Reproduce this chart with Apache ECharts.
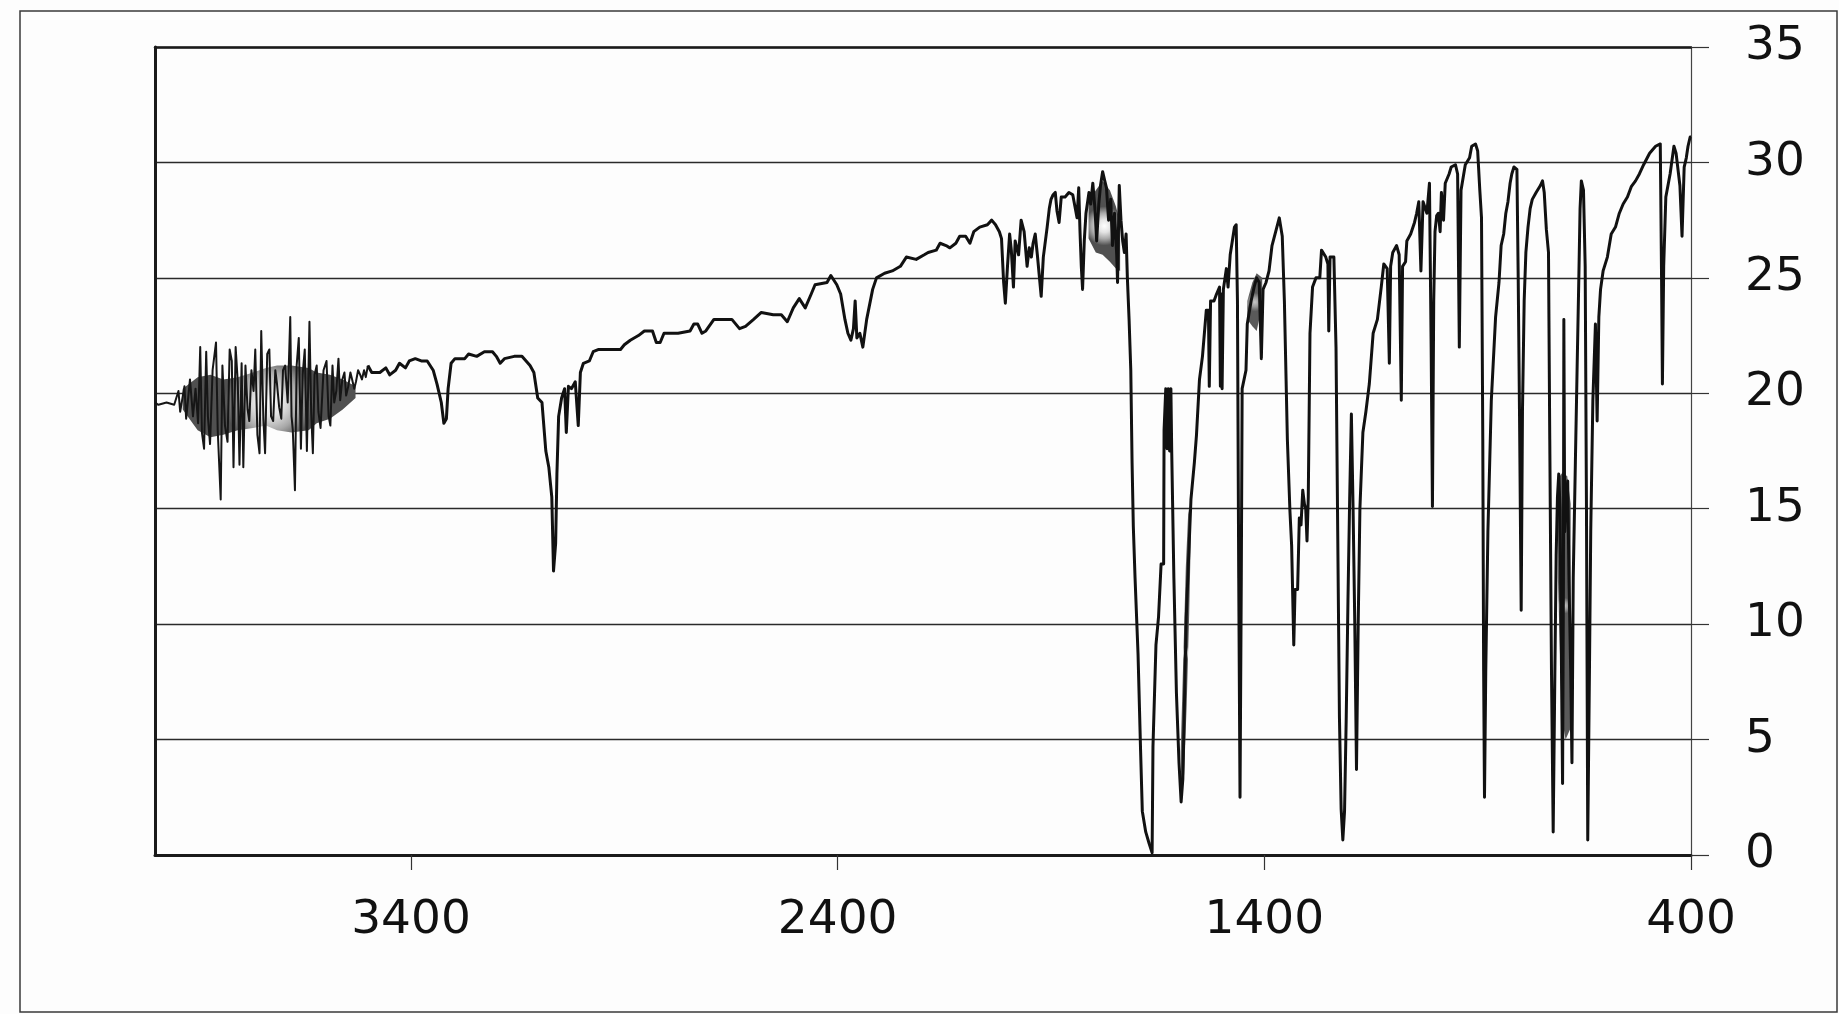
<!DOCTYPE html>
<html>
<head>
<meta charset="utf-8">
<script src="https://cdn.jsdelivr.net/npm/echarts@6/dist/echarts.min.js"></script>
<style>
html,body{margin:0;padding:0;background:#fdfdfd;}
#chart{width:1839px;height:1014px;}
</style>
</head>
<body>
<div id="chart"></div>
<script>
// Tick labels
const xTickValues = [3400, 2400, 1400, 400];
const yMin = 0, yMax = 35, yStep = 5;

// Spectrum: [wavenumber, value]
const region4000to3500 = [
[4000,19.6],[3992,19.5],[3973,19.6],[3955,19.5],[3945,20.1],[3941,19.2],[3931,20.3],[3927,18.9],[3918,20.6],[3911,19.0],[3905,20.2],[3899,18.7],[3894,22.0],[3890,18.3],[3885,17.6],[3880,21.8],[3876,19.0],[3871,17.8],[3865,21.0],[3857,22.2],[3853,18.4],[3846,15.4],[3842,21.2],[3836,18.6],[3830,17.9],[3825,21.9],[3820,21.4],[3816,16.8],[3811,22.0],[3806,20.5],[3802,16.9],[3797,21.3],[3793,16.8],[3788,21.2],[3783,19.3],[3779,18.8],[3774,21.0],[3769,20.1],[3765,21.9],[3760,18.2],[3755,17.4],[3751,22.7],[3746,18.9],[3742,17.4],[3737,21.7],[3732,21.9],[3728,19.0],[3723,18.8],[3718,21.0],[3714,20.4],[3709,19.4],[3704,18.9],[3700,21.0],[3695,21.2],[3689,19.6],[3683,23.3],[3680,19.0],[3677,18.4],[3672,15.8],[3668,21.2],[3663,22.4],[3658,17.6],[3654,20.8],[3649,21.9],[3644,17.5],[3638,23.1],[3634,19.2],[3630,17.4],[3626,20.8],[3621,21.2],[3617,19.2],[3612,18.5],[3605,21.0],[3598,21.4],[3593,19.0],[3589,18.6],[3584,21.2],[3580,19.6],[3575,20.1],[3570,21.5],[3566,19.7],[3561,20.6],[3556,20.9],[3552,19.9],[3547,20.3],[3542,20.9],[3538,20.6],[3533,20.2],[3529,20.5],[3524,21.0],[3519,20.8],[3515,20.6],[3510,21.0],[3506,20.7],[3501,21.2]
];
const region3500to2960 = [
[3501,21.2],[3492,20.9],[3473,20.9],[3459,21.1],[3450,20.8],[3436,21.0],[3427,21.3],[3413,21.1],[3404,21.4],[3390,21.5],[3376,21.4],[3362,21.4],[3348,21.0],[3339,20.4],[3329,19.6],[3323,18.7],[3317,18.9],[3313,20.2],[3306,21.3],[3297,21.5],[3274,21.5],[3265,21.7],[3246,21.6],[3228,21.8],[3209,21.8],[3200,21.6],[3191,21.3],[3181,21.5],[3158,21.6],[3140,21.6],[3121,21.2],[3112,20.9],[3103,19.8],[3093,19.6],[3084,17.5],[3077,16.8],[3070,15.5],[3066,12.3],[3061,13.5],[3058,16.5],[3054,19.0],[3047,19.8],[3040,20.2],[3036,18.3],[3031,20.3],[3024,20.2],[3015,20.5],[3008,18.6],[3003,20.9],[2996,21.3],[2982,21.4],[2973,21.8]
];
const region2960to2020 = [
[2960,21.9],[2932,21.9],[2909,21.9],[2900,22.1],[2886,22.3],[2867,22.5],[2853,22.7],[2834,22.7],[2825,22.2],[2816,22.2],[2807,22.6],[2774,22.6],[2746,22.7],[2737,23.0],[2728,23.0],[2718,22.6],[2709,22.7],[2690,23.2],[2648,23.2],[2630,22.8],[2616,22.9],[2597,23.2],[2579,23.5],[2551,23.4],[2532,23.4],[2518,23.1],[2504,23.7],[2490,24.1],[2476,23.7],[2462,24.3],[2453,24.7],[2425,24.8],[2416,25.1],[2402,24.7],[2393,24.3],[2383,23.2],[2376,22.6],[2369,22.3],[2363,22.8],[2359,24.0],[2355,22.4],[2348,22.6],[2341,22.0],[2332,23.2],[2318,24.5],[2309,25.0],[2290,25.2],[2272,25.3],[2253,25.5],[2239,25.9],[2216,25.8],[2197,26.0],[2188,26.1],[2169,26.2],[2160,26.5],[2146,26.4],[2137,26.3],[2123,26.5],[2114,26.8],[2100,26.8],[2090,26.5],[2081,27.0],[2067,27.2],[2049,27.3],[2039,27.5],[2030,27.3],[2021,27.0]
];
const region2020to1720 = [
[2016,26.7],[2011,24.8],[2007,23.9],[2002,25.5],[1997,26.9],[1993,26.2],[1988,24.6],[1984,26.6],[1976,26.0],[1970,27.5],[1963,27.0],[1956,25.5],[1951,26.3],[1946,25.9],[1942,26.5],[1937,26.9],[1932,26.0],[1928,25.2],[1923,24.2],[1918,25.9],[1909,27.2],[1904,28.0],[1900,28.4],[1895,28.6],[1890,28.7],[1886,27.9],[1881,27.4],[1876,28.5],[1867,28.5],[1858,28.7],[1849,28.6],[1844,28.1],[1839,27.6],[1835,28.9],[1832,27.0],[1829,25.5],[1826,24.5],[1822,26.6],[1818,27.8],[1811,28.7],[1807,28.2],[1802,29.1],[1797,28.0],[1793,26.6],[1788,28.2],[1784,29.0],[1779,29.6],[1774,29.2],[1770,28.9],[1765,27.5],[1760,28.4],[1756,26.4],[1751,27.8],[1746,26.0],[1744,24.8],[1740,29.0],[1736,27.5],[1732,26.6],[1728,26.1],[1724,26.9],[1721,25.0]
];
const region1720to1545 = [
[1717,23.2],[1713,21.0],[1710,17.0],[1707,14.2],[1703,12.0],[1696,8.7],[1690,4.5],[1686,1.9],[1678,1.0],[1670,0.5],[1663,0.1],[1661,4.7],[1654,9.1],[1648,10.3],[1642,12.6],[1636,12.6],[1635,18.4],[1631,20.2],[1628,17.6],[1625,20.2],[1622,17.5],[1619,20.2],[1617,17.4],[1612,12.0],[1606,7.0],[1600,4.0],[1595,2.3],[1591,3.3],[1583,10.3],[1572,15.4],[1564,17.0],[1559,18.2],[1552,20.6],[1545,21.6]
];
const region1545to1200 = [
[1536,23.6],[1531,23.6],[1529,20.3],[1526,24.0],[1518,24.0],[1512,24.3],[1505,24.6],[1503,20.3],[1501,24.3],[1499,20.2],[1496,24.5],[1489,25.4],[1485,24.6],[1480,26.0],[1475,26.6],[1470,27.2],[1466,27.3],[1463,24.0],[1460,12.0],[1457,2.5],[1454,12.0],[1452,20.2],[1443,21.0],[1440,23.0],[1431,24.0],[1424,24.6],[1418,25.0],[1412,24.8],[1407,21.5],[1403,24.5],[1396,24.8],[1389,25.3],[1382,26.4],[1372,27.1],[1365,27.6],[1358,26.8],[1353,24.0],[1346,18.0],[1340,14.9],[1336,13.4],[1331,9.1],[1328,11.5],[1322,11.5],[1318,14.6],[1314,14.3],[1310,15.8],[1306,15.2],[1303,15.0],[1300,13.6],[1297,15.5],[1293,22.6],[1287,24.6],[1279,25.0],[1270,25.0],[1266,26.2],[1256,25.9],[1251,25.6],[1249,22.7],[1246,25.9],[1237,25.9],[1232,22.0],[1228,14.0],[1224,6.0],[1220,2.0],[1216,0.65],[1212,1.9],[1208,6.0],[1204,11.0],[1200,15.4]
];
const region1200to400 = [
[1196,19.1],[1192,15.0],[1188,10.0],[1184,3.7],[1180,10.0],[1176,15.0],[1172,16.9],[1169,18.3],[1162,19.2],[1154,20.4],[1145,22.6],[1135,23.2],[1126,24.6],[1120,25.6],[1112,25.4],[1107,21.3],[1104,25.5],[1099,26.1],[1090,26.4],[1084,26.0],[1079,19.7],[1076,25.5],[1069,25.7],[1066,26.6],[1057,26.9],[1048,27.4],[1043,27.8],[1038,28.3],[1033,25.3],[1028,28.3],[1019,27.8],[1013,29.1],[1009,22.0],[1006,15.1],[1003,24.0],[1000,27.0],[996,27.7],[992,27.8],[988,27.0],[985,28.7],[980,27.5],[976,29.1],[967,29.5],[962,29.8],[952,29.9],[947,29.5],[943,22.0],[939,28.8],[929,29.9],[919,30.2],[914,30.7],[905,30.8],[900,30.5],[895,28.8],[891,27.6],[888,18.0],[886,8.0],[884,2.5],[881,8.0],[876,14.0],[868,19.7],[858,23.3],[850,24.8],[845,26.4],[839,26.9],[834,27.8],[829,28.3],[824,29.1],[820,29.5],[815,29.8],[808,29.7],[805,25.0],[802,19.3],[798,10.6],[795,19.2],[791,24.0],[787,26.1],[782,27.2],[777,28.0],[772,28.4],[763,28.7],[753,29.0],[748,29.2],[744,28.7],[739,27.1],[734,26.1],[731,18.0],[727,8.0],[723,1.0],[719,8.0],[716,13.0],[713,15.5],[710,16.5],[707,15.0],[704,9.0],[701,3.1],[699,12.0],[698,23.2],[696,14.0],[692,15.5],[689,16.2],[686,12.0],[682,8.0],[679,4.0],[676,12.0],[671,17.0],[667,21.0],[663,24.9],[660,28.0],[657,29.2],[652,28.8],[648,25.5],[645,15.0],[642,0.65],[638,8.0],[635,14.0],[630,19.7],[624,23.0],[620,18.8],[616,23.3],[612,24.5],[606,25.3],[596,25.9],[587,26.9],[577,27.2],[568,27.8],[559,28.2],[549,28.5],[540,28.95],[530,29.2],[521,29.5],[511,29.9],[497,30.4],[483,30.7],[472,30.8],[469,25.0],[467,20.4],[464,25.5],[459,28.5],[449,29.5],[440,30.7],[435,30.4],[426,29.0],[421,26.8],[416,29.8],[411,30.2],[407,30.7],[402,31.1],[400,31.1]
];

// Envelopes of the densely oscillating (grey, smeared) stretches of the trace
const band3900Upper = [[3935,20.2],[3900,20.7],[3870,20.8],[3840,20.6],[3806,20.7],[3770,20.9],[3740,21.1],[3714,21.2],[3680,21.2],[3640,21.1],[3621,20.9],[3590,20.8],[3560,20.6],[3530,20.3]];
const band3900Lower = [[3935,19.3],[3900,18.4],[3870,18.1],[3840,18.2],[3806,18.4],[3770,18.5],[3740,18.6],[3714,18.4],[3680,18.3],[3640,18.4],[3621,18.7],[3590,18.9],[3560,19.3],[3530,19.8]];
const band1780Upper = [[1812,28.3],[1795,28.8],[1779,29.2],[1762,28.8],[1748,28.1],[1738,27.4]];
const band1780Lower = [[1812,26.7],[1795,26.1],[1779,26.0],[1762,25.7],[1748,25.4],[1738,25.3]];
const band1420Upper = [[1440,24.0],[1428,24.8],[1418,25.2],[1405,25.0]];
const band1420Lower = [[1440,23.2],[1428,22.9],[1418,22.7],[1405,23.8]];
const band1590Upper = [[1596,4.5],[1590,8.5],[1584,12.5],[1578,15.0]];
const band1590Lower = [[1594,2.5],[1588,3.5],[1582,6.5],[1576,10.5],[1572,14.0]];
const band690Upper = [[712,16.3],[700,16.6],[690,16.4],[682,15.2]];
const band690Lower = [[712,12.0],[703,6.0],[694,5.0],[682,5.5]];

const mainTrace = [].concat(region3500to2960, region2960to2020,
  region2020to1720, region1720to1545, region1545to1200, region1200to400);

const FONT = 'DejaVu Sans, Verdana, sans-serif';

function bandSeries(upper, lower, stops) {
  return {
    type: 'custom', xAxisIndex: 0, yAxisIndex: 0, z: 4, silent: true, clip: true,
    data: [upper[0]],
    renderItem: function (params, api) {
      const pts = upper.map(p => api.coord(p)).concat(lower.slice().reverse().map(p => api.coord(p)));
      return {
        type: 'polygon',
        shape: {points: pts},
        style: {
          fill: new echarts.graphic.RadialGradient(0.5, 0.5, 0.62,
            stops.map((c, i) => ({offset: i / (stops.length - 1), color: c}))),
          stroke: null
        }
      };
    }
  };
}
const lightStops = ['#ffffff', '#e4e4e4', '#a8a8a8', '#505050'];
const greyStops = ['#c8c8c8', '#9a9a9a', '#5a5a5a'];

const chart = echarts.init(document.getElementById('chart'), null, {renderer: 'canvas'});
chart.setOption({
  backgroundColor: '#fdfdfd',
  animation: false,
  grid: {left: 155, right: 148, top: 47, bottom: 159, show: false},
  graphic: [{
    type: 'rect', silent: true, z: -10,
    shape: {x: 20, y: 11, width: 1817, height: 1001},
    style: {fill: 'none', stroke: '#3a3a3a', lineWidth: 1.5}
  }],
  xAxis: [{
    type: 'value', min: 400, max: 4000, inverse: true,
    axisLine: {show: true, onZero: false, lineStyle: {color: '#1a1a1a', width: 3}},
    axisTick: {show: true, length: 15, customValues: xTickValues, lineStyle: {color: '#333', width: 1.2}},
    axisLabel: {customValues: xTickValues, margin: 42, fontSize: 47, fontFamily: FONT, color: '#111',
      formatter: v => String(v)},
    splitLine: {show: false}
  }, {
    type: 'value', min: 400, max: 4000, inverse: true, position: 'top',
    axisLine: {show: true, onZero: false, lineStyle: {color: '#1a1a1a', width: 2.5}},
    axisTick: {show: false}, axisLabel: {show: false}, splitLine: {show: false}
  }],
  yAxis: [{
    type: 'value', position: 'right', min: yMin, max: yMax, interval: yStep,
    axisLine: {show: true, onZero: false, lineStyle: {color: '#444', width: 1.2}},
    axisTick: {show: true, length: 18, lineStyle: {color: '#333', width: 1.2}},
    axisLabel: {margin: 54, fontSize: 47, fontFamily: FONT, color: '#111', formatter: v => String(v)},
    splitLine: {show: true, lineStyle: {color: '#2a2a2a', width: 1.4}}
  }, {
    type: 'value', position: 'left', min: yMin, max: yMax,
    axisLine: {show: true, onZero: false, lineStyle: {color: '#1a1a1a', width: 3}},
    axisTick: {show: false}, axisLabel: {show: false}, splitLine: {show: false}
  }],
  series: [
    bandSeries(band3900Upper, band3900Lower, lightStops),
    bandSeries(band1780Upper, band1780Lower, lightStops),
    bandSeries(band1420Upper, band1420Lower, greyStops),
    bandSeries(band1590Upper, band1590Lower, greyStops),
    bandSeries(band690Upper, band690Lower, greyStops),
    {
      type: 'line', xAxisIndex: 0, yAxisIndex: 0,
      data: region4000to3500, showSymbol: false, symbol: 'none',
      lineStyle: {color: '#161616', width: 2, join: 'round'},
      z: 5
    },
    {
      type: 'line', xAxisIndex: 0, yAxisIndex: 0,
      data: mainTrace, showSymbol: false, symbol: 'none',
      lineStyle: {color: '#111', width: 3, join: 'round'},
      z: 5
    }
  ]
});
</script>
</body>
</html>
